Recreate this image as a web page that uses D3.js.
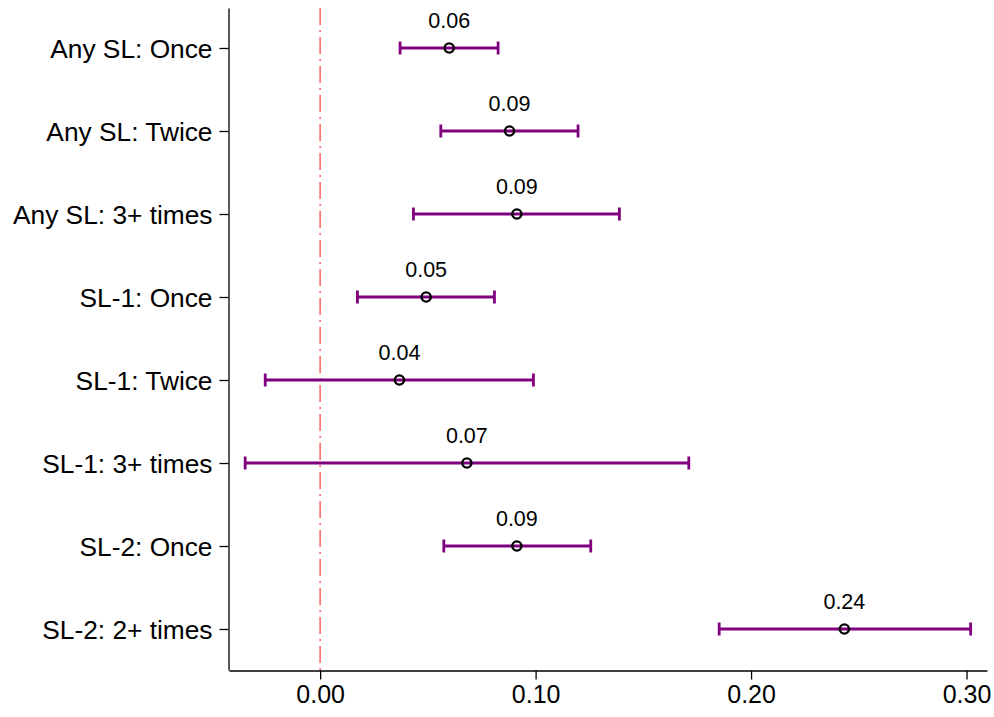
<!DOCTYPE html>
<html>
<head>
<meta charset="utf-8">
<script src="https://cdn.jsdelivr.net/npm/d3@7"></script>
<style>
  html, body { margin: 0; padding: 0; background: #fff; }
  text { font-family: "Liberation Sans", Arial, sans-serif; }
</style>
</head>
<body>
<svg id="chart" width="994" height="717"></svg>
<script>
const categories = ["Any SL: Once", "Any SL: Twice", "Any SL: 3+ times", "SL-1: Once", "SL-1: Twice", "SL-1: 3+ times", "SL-2: Once", "SL-2: 2+ times"];
const estimates = [0.0599, 0.0879, 0.0913, 0.0492, 0.0368, 0.0681, 0.0913, 0.2433];
const lower = [0.0371, 0.0560, 0.0433, 0.0173, -0.0255, -0.0348, 0.0574, 0.1852];
const upper = [0.0826, 0.1197, 0.1389, 0.0809, 0.0990, 0.1711, 0.1256, 0.3019];
const labels = ["0.06", "0.09", "0.09", "0.05", "0.04", "0.07", "0.09", "0.24"];
const xTicks = [0.00, 0.10, 0.20, 0.30];

(function () {
const svg = d3.select("#chart");
const mLeft = 229, mRight = 987, mTop = 8, mBottom = 670;

const x = d3.scaleLinear().domain([-0.0423, 0.3095]).range([mLeft, mRight]);
const y = d3.scaleLinear().domain([-0.482, categories.length - 1 + 0.494]).range([mTop, mBottom]);

// reference line at 0
svg.append("line")
  .attr("x1", x(0)).attr("x2", x(0))
  .attr("y1", mTop).attr("y2", mBottom)
  .attr("stroke", "#ff6b6b").attr("stroke-width", 1.6)
  .attr("stroke-dasharray", "17,5,2,5");

// x axis
const xAxis = d3.axisBottom(x).tickValues(xTicks).tickFormat(d3.format(".2f")).tickSize(9).tickSizeOuter(0);
const gx = svg.append("g").attr("transform", `translate(0,${mBottom + 0.5})`).call(xAxis);
gx.select(".domain").attr("stroke", "#000").attr("stroke-width", 1.3);
gx.selectAll(".tick line").attr("stroke", "#000").attr("stroke-width", 1.3);
gx.selectAll(".tick text").attr("font-size", 25).attr("fill", "#000").attr("y", 32.5).attr("dy", 0)
  .style("font-family", "'Liberation Sans', Arial, sans-serif");

// y axis
const yAxis = d3.axisLeft(y).tickValues(d3.range(categories.length)).tickFormat(i => categories[i]).tickSize(9).tickSizeOuter(0);
const gy = svg.append("g").attr("transform", `translate(${mLeft - 0.5},0)`).call(yAxis);
gy.select(".domain").attr("stroke", "#000").attr("stroke-width", 1.3);
gy.selectAll(".tick line").attr("stroke", "#000").attr("stroke-width", 1.3);
gy.selectAll(".tick text").attr("font-size", 26.3).attr("fill", "#000").attr("x", -16).attr("dy", "0.35em")
  .style("font-family", "'Liberation Sans', Arial, sans-serif");

const rows = d3.range(categories.length);
const purple = "#800080";
const g = svg.append("g");

g.selectAll(".bar").data(rows).join("line")
  .attr("x1", i => x(lower[i])).attr("x2", i => x(upper[i]))
  .attr("y1", i => y(i)).attr("y2", i => y(i))
  .attr("stroke", purple).attr("stroke-width", 3.2);

g.selectAll(".capL").data(rows).join("line").attr("class", "capL")
  .attr("x1", i => x(lower[i])).attr("x2", i => x(lower[i]))
  .attr("y1", i => y(i) - 6.5).attr("y2", i => y(i) + 6.5)
  .attr("stroke", purple).attr("stroke-width", 2.8);

g.selectAll(".capR").data(rows).join("line").attr("class", "capR")
  .attr("x1", i => x(upper[i])).attr("x2", i => x(upper[i]))
  .attr("y1", i => y(i) - 6.5).attr("y2", i => y(i) + 6.5)
  .attr("stroke", purple).attr("stroke-width", 2.8);

g.selectAll("circle").data(rows).join("circle")
  .attr("cx", i => x(estimates[i])).attr("cy", i => y(i))
  .attr("r", 4.6).attr("fill", "none").attr("stroke", "#000").attr("stroke-width", 2.4);

g.selectAll(".lbl").data(rows).join("text").attr("class", "lbl")
  .attr("x", i => x(estimates[i])).attr("y", i => y(i) - 20)
  .attr("text-anchor", "middle").attr("font-size", 21.5).attr("fill", "#000")
  .text(i => labels[i]);
})();
</script>
</body>
</html>
